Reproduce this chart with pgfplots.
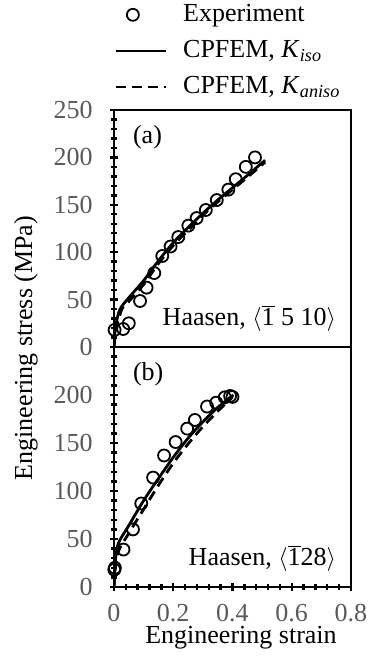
\documentclass[border=0pt]{standalone}
\usepackage{fontspec}
\setmainfont{Liberation Serif}
\usepackage{pgfplots}
\pgfplotsset{compat=1.18}
\definecolor{tickgray}{HTML}{595959}
\pgfplotsset{
  common/.style={
    scale only axis, width=118.5pt,
    xmin=0, xmax=0.8, ymin=0, ymax=250,
    axis line style={line width=1pt},
    every tick/.append style={black, line width=1.2pt},
    tick align=center,
    ytick pos=left,
    minor y tick num=4,
    tick label style={font=\fontsize{13}{15.6}\selectfont, text=tickgray},
    /pgf/number format/assume math mode=true,
  },
  expt/.style={only marks, mark=o, mark size=3pt, black, line width=0.9pt},
  sim/.style={black, line width=1.4pt, no marks, smooth},
  simd/.style={black, line width=1.4pt, no marks, smooth, dash pattern=on 5pt off 3pt},
  linelegend/.style={legend image code/.code={\draw[##1] (0pt,0pt) -- (25pt,0pt);}},
}
\begin{document}
\fontsize{13}{15.6}\selectfont
\begin{tikzpicture}
\useasboundingbox (-57pt,-35.5pt) rectangle (129pt,293.5pt);
% bottom axis (b)
\begin{axis}[common, name=bot, at={(0,0)}, anchor=south west, height=120pt,
  xtick={0,0.2,0.4,0.6,0.8}, xticklabels={0,0.2,0.4,0.6,0.8},
  xtick pos=bottom, minor x tick num=4,
  ytick={0,50,100,150,200,250}, yticklabels={0,50,100,150,200,},
  xticklabel style={yshift=-2pt},
  yticklabel style={xshift=-4pt},
]
\addplot[expt] coordinates {(0.001,18)(0.003,20)(0.032,39)(0.064,60)(0.092,87)(0.132,114)(0.169,137)(0.208,151)(0.247,165)(0.273,174)(0.314,188)(0.345,192)(0.374,197.6)(0.392,199)(0.4,198)};
\addplot[sim] coordinates {(0,0)(0.004,25)(0.014,45)(0.05,64)(0.1,90)(0.15,113)(0.2,135)(0.25,155)(0.3,172)(0.35,187)(0.403,200)};
\addplot[simd] coordinates {(0,0)(0.005,22)(0.016,38)(0.05,56)(0.1,81)(0.15,106)(0.2,129)(0.25,149)(0.3,167)(0.35,183)(0.4,198)};
\node[anchor=north west, font=\fontsize{13}{15.6}\selectfont] at (rel axis cs:0,1) [xshift=5pt, yshift=-3pt] {(b)};
\node[anchor=south east, font=\fontsize{13}{15.6}\selectfont] at (rel axis cs:1,0) [xshift=-3pt, yshift=3pt] {Haasen, $\langle$$\overline{\mbox{1}}$28$\rangle$};
\end{axis}
% top axis (a)
\begin{axis}[common, name=top, at={(0,120pt)}, anchor=south west, height=118.5pt,
  xtick=\empty,
  ytick={0,50,100,150,200,250},
  yticklabel style={xshift=-4pt},
  legend style={at={(axis description cs:0,1)}, anchor=south west, xshift=-3pt, yshift=2pt,
    draw=none, fill=none, font=\fontsize{13}{15.6}\selectfont, row sep=3.5pt,
    /tikz/every odd column/.append style={column sep=6pt}},
  legend cell align=left,
]
\addplot[expt] coordinates {(0.002,18)(0.031,19)(0.05,25)(0.088,48.5)(0.11,62.6)(0.136,78)(0.163,96)(0.191,106)(0.217,116)(0.251,128)(0.279,136)(0.31,144.5)(0.347,155)(0.386,166)(0.411,177)(0.445,190)(0.476,200)};
\addlegendentry{Experiment}
\addplot[sim, linelegend] coordinates {(0,0)(0.005,20)(0.019,39)(0.05,52)(0.1,70)(0.15,91)(0.2,110)(0.25,126)(0.3,141)(0.35,155)(0.4,168)(0.45,181)(0.51,197)};
\addlegendentry{CPFEM, \textit{K}\textsubscript{\textit{iso}}}
\addplot[simd, linelegend] coordinates {(0,0)(0.006,18)(0.02,34)(0.03,42)(0.05,48)(0.1,66)(0.15,88)(0.2,107)(0.25,123)(0.3,139)(0.35,153)(0.4,166)(0.45,179)(0.51,195)};
\addlegendentry{CPFEM, \textit{K}\textsubscript{\textit{aniso}}}
\node[anchor=north west, font=\fontsize{13}{15.6}\selectfont] at (rel axis cs:0,1) [xshift=5pt, yshift=-3pt] {(a)};
\node[anchor=south east, font=\fontsize{13}{15.6}\selectfont] at (rel axis cs:1,0) [xshift=-3pt, yshift=3pt] {Haasen, $\langle$$\overline{\mbox{1}}$ 5 10$\rangle$};
\end{axis}
\node[rotate=90, anchor=center, font=\fontsize{13}{15.6}\selectfont] at (-44pt,119.5pt) {Engineering stress (MPa)};
\node[anchor=base, font=\fontsize{13}{15.6}\selectfont] at (63.5pt,-28.5pt) {Engineering strain};
\end{tikzpicture}
\end{document}
